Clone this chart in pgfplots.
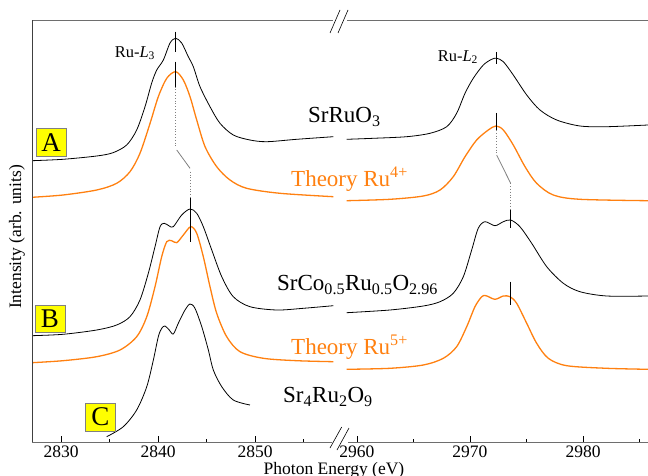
\documentclass[border=0pt]{standalone}
\usepackage{fontspec}
\setmainfont{Liberation Serif}
\usepackage{pgfplots}
\pgfplotsset{compat=1.18}
\definecolor{theo}{RGB}{255,128,16}
\definecolor{boxy}{RGB}{255,255,0}
\definecolor{axgray}{RGB}{110,110,110}
\begin{document}
\begin{tikzpicture}
\pgfplotsset{brk/.style={scale only axis, width=308pt, height=422pt, ymin=33, ymax=455,
  axis line style={draw=none}, ytick=\empty, xtick pos=bottom, tick align=inside,
  major tick length=6pt, minor tick length=3pt,
  every tick/.style={black, line width=0.6pt},
  xticklabel style={font=\fontsize{17.5}{20}\selectfont},
  /pgf/number format/1000 sep={}, /pgf/number format/assume math mode=true,
  exp/.style={black, line width=0.8pt, smooth},
  th/.style={theo, line width=1.3pt, smooth},
  pk/.style={black, line width=1.1pt},
  dt/.style={gray, dotted, line width=0.8pt},
  sl/.style={gray, line width=0.8pt}}}
% ---------------- left part ----------------
\begin{axis}[brk, at={(32pt,33pt)}, anchor=south west, xmin=2827.01, xmax=2858.76,
  xtick={2830,2840,2850}, minor xtick={2835,2845,2855}]
% A: SrRuO3
\addplot[exp] coordinates {(2827.0,314.3)(2830.21,315.7)(2833.68,319)(2835.36,322.3)(2836.77,330)(2837.80,345)(2838.66,368.3)(2839.35,392)(2839.87,405)(2840.55,415)(2841.24,432)(2841.82,436.7)(2842.44,432)(2843.12,418.3)(2843.64,408.3)(2844.33,388.3)(2845.36,368.3)(2846.39,351.7)(2847.76,340)(2849.48,335)(2851.21,333.3)(2854.30,335.7)(2858.07,338.3)};
% Theory Ru4+
\addplot[th] coordinates {(2827.0,277.7)(2830.21,280)(2833.68,285)(2835.74,291.7)(2837.11,303.3)(2838.14,321.7)(2839.18,351.7)(2840.03,378.3)(2840.90,396.7)(2841.82,403.3)(2842.61,395)(2843.30,378.3)(2843.99,355)(2844.85,328.3)(2846.05,308.3)(2847.42,295)(2849.14,286.7)(2852.58,281.7)(2858.07,278.3)};
% B: SrCo0.5Ru0.5O2.96
\addplot[exp] coordinates {(2827.0,139.3)(2830.21,140.7)(2833.68,145)(2835.74,150)(2837.11,158.3)(2838.14,175)(2839.00,201.7)(2839.69,228.3)(2840.21,248.3)(2840.65,251.7)(2841.16,249)(2841.58,248.3)(2842.44,260)(2843.30,266)(2843.99,261.7)(2844.67,248.3)(2845.54,225)(2846.57,198.3)(2847.76,178.3)(2849.48,168.3)(2852.24,165)(2854.98,166.7)(2858.07,169.3)};
% Theory Ru5+
\addplot[th] coordinates {(2827.0,112.3)(2830.21,114.3)(2833.68,118.3)(2836.08,125)(2837.80,138.3)(2838.84,158.3)(2839.69,188.3)(2840.38,218.3)(2840.90,233.3)(2841.41,234.3)(2841.93,232.3)(2842.61,240)(2843.37,248.3)(2843.99,241.7)(2844.67,218.3)(2845.36,188.3)(2846.05,161.7)(2847.08,138.3)(2848.45,123.3)(2850.86,116.7)(2854.30,114.3)(2858.07,113.3)};
% C: Sr4Ru2O9
\addplot[exp] coordinates {(2834.71,38.3)(2836.42,48.3)(2837.80,65)(2838.84,88.3)(2839.52,115)(2840.03,138.3)(2840.38,146.7)(2840.72,149)(2841.16,145)(2841.58,141)(2842.09,151.7)(2842.78,165)(2843.30,171)(2843.81,166.7)(2844.51,148.3)(2845.19,125)(2845.70,105)(2846.57,88.3)(2847.76,75)(2849.48,70)};
% peak markers and connectors
\addplot[pk] coordinates {(2841.82,443.3)(2841.82,423.3)};
\addplot[pk] coordinates {(2841.82,413.3)(2841.82,388.3)};
\addplot[dt] coordinates {(2841.82,388.3)(2841.82,328.3)};
\addplot[sl] coordinates {(2841.93,325)(2843.30,306.7)};
\addplot[dt] coordinates {(2843.37,303.3)(2843.37,276.7)};
\addplot[pk] coordinates {(2843.37,276.7)(2843.37,233.3)};
\end{axis}
% ---------------- right part ----------------
\begin{axis}[brk, at={(340pt,33pt)}, anchor=south west, xmin=2958.50, xmax=2985.75,
  xtick={2960,2970,2980}, minor xtick={2965,2975,2985}]
\addplot[exp] coordinates {(2959.09,335.7)(2961.44,336.7)(2964.40,338.3)(2966.46,341.7)(2967.94,348.3)(2968.82,361.7)(2969.56,381.7)(2970.29,396.7)(2971.18,410)(2971.92,415.7)(2972.36,416.7)(2972.95,413.3)(2973.83,400)(2975.02,380)(2976.19,365)(2977.67,355)(2979.73,349)(2982.10,348.3)(2985.75,350)};
\addplot[th] coordinates {(2959.09,274.3)(2962.92,275.7)(2965.87,279)(2967.35,285)(2968.52,298.3)(2969.56,318.3)(2970.59,335)(2971.62,345)(2972.30,349)(2972.95,345)(2973.83,330)(2974.87,308.3)(2975.90,291.7)(2977.37,280)(2979.73,275.7)(2985.75,274.3)};
\addplot[exp] coordinates {(2959.09,162.3)(2962.92,165)(2965.87,169)(2967.35,173.3)(2968.52,181.7)(2969.41,198.3)(2970.15,225)(2970.73,246.7)(2971.33,253.3)(2972.21,249.3)(2972.95,253.3)(2973.60,255)(2974.42,248.3)(2975.46,231.7)(2976.79,208.3)(2978.26,191.7)(2979.73,183.3)(2982.10,179)(2985.75,179)};
\addplot[th] coordinates {(2959.09,105.7)(2962.92,106.7)(2965.87,110)(2967.64,116.7)(2968.82,128.3)(2969.71,148.3)(2970.44,168.3)(2971.04,178.3)(2971.42,179.3)(2972.21,175.7)(2972.95,179)(2973.54,178.3)(2974.13,171.7)(2975.02,151.7)(2975.90,131.7)(2976.93,116.7)(2978.56,109.3)(2982.10,106.7)(2985.75,105.7)};
\addplot[pk] coordinates {(2972.36,423)(2972.36,411)};
\addplot[pk] coordinates {(2972.36,362)(2972.36,345)};
\addplot[dt] coordinates {(2972.36,345)(2972.36,320)};
\addplot[sl] coordinates {(2972.36,320)(2973.60,291.7)};
\addplot[dt] coordinates {(2973.60,291.7)(2973.60,265)};
\addplot[pk] coordinates {(2973.60,265)(2973.60,247)};
\addplot[pk] coordinates {(2973.60,193.3)(2973.60,170)};
\end{axis}
% ---------------- frame, breaks, texts ----------------
\draw[axgray, line width=0.9pt] (32pt,455pt) -- (333pt,455pt);
\draw[axgray, line width=0.9pt] (347pt,455pt) -- (648pt,455pt);
\draw[axgray, line width=0.9pt] (32pt,33pt) -- (332pt,33pt);
\draw[axgray, line width=0.9pt] (348pt,33pt) -- (648pt,33pt);
\draw[black!75, line width=0.9pt] (32pt,33pt) -- (32pt,455pt);
\draw[black, line width=0.6pt] (330pt,442pt) -- (340pt,465pt) (338pt,442pt) -- (348pt,465pt);
\draw[black, line width=0.6pt] (330pt,27pt) -- (341.7pt,48pt) (337pt,25pt) -- (349pt,47pt);
% labels
\node[anchor=west, inner sep=0pt, font=\fontsize{23}{26}\selectfont] at (308pt,358pt) {SrRuO\textsubscript{3}};
\node[anchor=west, inner sep=0pt, text=theo, font=\fontsize{23}{26}\selectfont] at (291pt,296pt) {Theory Ru\textsuperscript{4+}};
\node[anchor=west, inner sep=0pt, font=\fontsize{23}{26}\selectfont] at (277pt,190pt) {SrCo\textsubscript{0.5}Ru\textsubscript{0.5}O\textsubscript{2.96}};
\node[anchor=west, inner sep=0pt, text=theo, font=\fontsize{23}{26}\selectfont] at (291pt,128pt) {Theory Ru\textsuperscript{5+}};
\node[anchor=west, inner sep=0pt, font=\fontsize{23}{26}\selectfont] at (283pt,78pt) {Sr\textsubscript{4}Ru\textsubscript{2}O\textsubscript{9}};
\node[anchor=west, inner sep=0.6pt, fill=white, font=\fontsize{16.5}{19}\selectfont] at (114pt,422pt) {Ru-\textit{L}\textsubscript{3}};
\node[anchor=west, inner sep=0.6pt, fill=white, font=\fontsize{16.5}{19}\selectfont] at (437pt,418pt) {Ru-\textit{L}\textsubscript{2}};
% boxes
\node[draw=gray, fill=boxy, minimum width=30pt, minimum height=28pt, inner sep=0pt, font=\fontsize{27}{30}\selectfont] at (51pt,332.5pt) {A};
\node[draw=gray, fill=boxy, minimum width=30pt, minimum height=27pt, inner sep=0pt, font=\fontsize{27}{30}\selectfont] at (50pt,156.5pt) {B};
\node[draw=gray, fill=boxy, minimum width=30pt, minimum height=28pt, inner sep=0pt, font=\fontsize{27}{30}\selectfont] at (100.5pt,58pt) {C};
% axis titles
\node[rotate=90, font=\fontsize{17.5}{20}\selectfont] at (17pt,238pt) {Intensity (arb. units)};
\node[anchor=base, font=\fontsize{17.5}{20}\selectfont] at (334pt,0.5pt) {Photon Energy (eV)};
\pgfresetboundingbox
\useasboundingbox (0,0) rectangle (648pt,475pt);
\end{tikzpicture}
\end{document}
